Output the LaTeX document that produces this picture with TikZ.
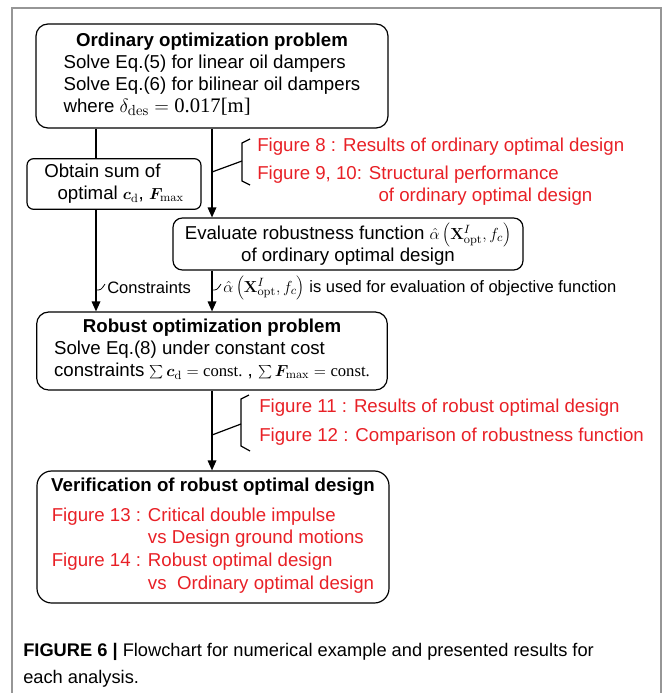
\documentclass[tikz,border=0pt]{standalone}
\usepackage[no-math]{fontspec}
\setmainfont{Liberation Sans}
\newfontfamily\timesfont{Liberation Serif}
\usepackage{bm}
\usetikzlibrary{arrows.meta}
\definecolor{figred}{RGB}{232,32,38}
\definecolor{framegray}{RGB}{150,150,150}
\newcommand{\smallmath}[1]{{\fontsize{12.5}{16.5}\selectfont$#1$}}
\newcommand{\bigmath}[1]{{\fontsize{15.5}{16.5}\selectfont$#1$}}

\begin{document}
\begin{tikzpicture}[x=0.75pt,y=-0.75pt,
  font=\fontsize{14}{16.5}\selectfont,
  flowbox/.style={draw,rounded corners=9pt,line width=0.9pt,align=center,inner sep=0pt},
  arr/.style={line width=0.9pt,-{Triangle[length=7.5pt,width=6.5pt]}},
  redtext/.style={text=figred,align=left,inner sep=0pt,anchor=west},
  lbl/.style={anchor=west,inner sep=0pt,font=\fontsize{12.4}{15}\selectfont}]
\useasboundingbox (0,0) rectangle (665,693);
% frame of the figure
\draw[framegray,line width=1.4pt] (12,693) -- (12,8) -- (661,8) -- (661,693);
% the boxes
\node[flowbox,minimum width=264pt,minimum height=78pt] (ord) at (212,76) {\textbf{Ordinary optimization problem}\\
  \begin{tabular}[t]{@{}l@{}}Solve Eq.(5) for linear oil dampers\\ Solve Eq.(6) for bilinear oil dampers\\
  where \bigmath{\delta_{\mathrm{des}}=\mbox{\timesfont 0.017[m]}}\end{tabular}};
\node[flowbox,rounded corners=5pt,minimum width=130.5pt,minimum height=38pt] (obt) at (114,184) {\begin{tabular}{@{}l@{}}Obtain sum of\\
  \hspace*{10pt}optimal \smallmath{\bm{c}_{\mathrm{d}}}, \smallmath{\bm{F}_{\max}}\end{tabular}};
\node[flowbox,rounded corners=7pt,minimum width=262.5pt,minimum height=39pt] (eval) at (348,244) {Evaluate robustness function \smallmath{\hat{\alpha}\left(\mathbf{X}^{I}_{\mathrm{opt}},f_{c}\right)}\\
  of ordinary optimal design};
\node[flowbox,minimum width=263pt,minimum height=58.5pt] (rob) at (212,351) {\textbf{Robust optimization problem}\\
  \begin{tabular}[t]{@{}l@{}}Solve Eq.(8) under constant cost\\
  constraints \smallmath{\sum\bm{c}_{\mathrm{d}}=\mbox{\timesfont const.}} , \smallmath{\sum\bm{F}_{\max}=\mbox{\timesfont const.}}\end{tabular}};
\node[flowbox,rounded corners=11pt,minimum width=264pt,minimum height=99pt] (ver) at (213,537) {\textbf{Verification of robust optimal design}\\[5.5pt]
  \textcolor{figred}{\fontsize{14}{17}\selectfont\begin{tabular}[t]{@{}l@{ }l@{}}Figure 13 :&Critical double impulse\\ &vs Design ground motions\\
  Figure 14 :&Robust optimal design\\ &vs\ \ Ordinary optimal design\end{tabular}}};
% red notes beside the flow
\node[redtext] (resA) at (257,172) {Figure 8 : Results of ordinary optimal design\\[4.5pt]
  Figure 9, 10: Structural performance\\ \hspace*{91pt}of ordinary optimal design};
\node[redtext] (resB) at (259,422) {Figure 11 : Results of robust optimal design\\[5pt]
  Figure 12 : Comparison of robustness function};
% labels on the arrows
\node[lbl] (cons) at (107,288) {Constraints};
\node[lbl] (used) at (223,288) {$\hat{\alpha}\left(\mathbf{X}^{I}_{\mathrm{opt}},f_{c}\right)$ is used for evaluation of objective function};
% caption
\node[anchor=base west,inner sep=0pt,font=\fontsize{13.7}{16}\selectfont] (cap1) at (23,656) {\textbf{FIGURE 6 |} Flowchart for numerical example and presented results for};
\node[anchor=base west,inner sep=0pt,font=\fontsize{13.7}{16}\selectfont] (cap2) at (23,683) {each analysis.};
% x positions of the two lines
\coordinate (lx) at (96,0);
\coordinate (rx) at (212,0);
% lines and arrows
\draw[line width=0.9pt] (lx |- ord.south) -- (lx |- obt.north);
\draw[arr] (lx |- obt.south) -- (lx |- rob.north);
\draw[arr] (rx |- ord.south) -- (rx |- eval.north);
\draw[arr] (rx |- eval.south) -- (rx |- rob.north);
\draw[arr] (rx |- rob.south) -- (rx |- ver.north);
% small ticks to the labels
\draw[line width=0.6pt] (96,290) .. controls (101,290) .. (105,284);
\draw[line width=0.6pt] (212,290) .. controls (217,290) .. (221,284);
% brackets
\coordinate (tipA) at (242,161);
\coordinate (jA) at (212,172);
\draw[line width=0.9pt] (250,139) -- (242,143) -- (242,181) -- (250,185);
\draw[line width=0.9pt] (jA) -- (tipA);
\coordinate (tipB) at (241,424);
\coordinate (jB) at (212,435);
\draw[line width=0.9pt] (249,395) -- (241,399) -- (241,446) -- (250,451);
\draw[line width=0.9pt] (jB) -- (tipB);
\end{tikzpicture}
\end{document}
